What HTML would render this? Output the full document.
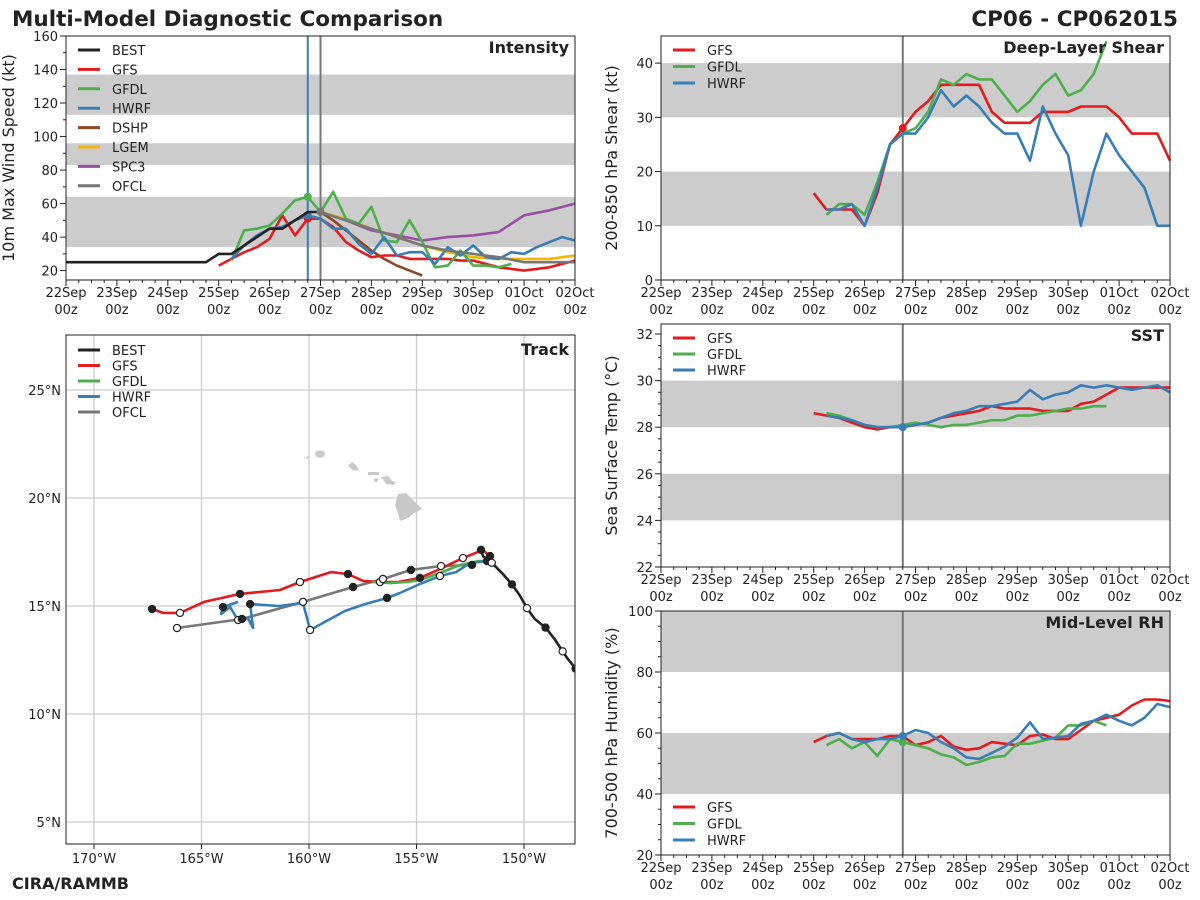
<!DOCTYPE html>
<html><head><meta charset="utf-8"><style>
body{margin:0;background:#fff;}
svg{display:block;font-family:"DejaVu Sans","Liberation Sans",sans-serif;}
</style></head><body>
<svg id="chart" width="1200" height="900" viewBox="0 0 1200 900" xmlns="http://www.w3.org/2000/svg">
<text x="12" y="26" font-size="21.5" font-weight="bold" fill="#222">Multi-Model Diagnostic Comparison</text>
<text x="1178" y="26" font-size="21.5" font-weight="bold" fill="#222" text-anchor="end">CP06 - CP062015</text>
<text x="12" y="889" font-size="16" font-weight="bold" fill="#222">CIRA/RAMMB</text>
</svg>
<script>
// ---- data ----
const dayLabels=["22Sep","23Sep","24Sep","25Sep","26Sep","27Sep","28Sep","29Sep","30Sep","01Oct","02Oct"];
const intBEST=[25,25,25,25,25,25,25,25,25,25,25,25,30,30,35,40,45,45,50,55,55];
const intGFS=[23,27,31,34,39,53,41,51,51,46,37,32,28,29,29,27,27,27,27,26,26,24,22,21,20,21,22,24,26];
const intGFDL=[26,44,45,47,54,62,64,55,67,51,48,58,38,37,50,37,22,23,32,23,23,22,24];
const intHWRF=[27,35,41,45,46,50,53,51,45,45,36,30,40,29,31,31,24,34,29,35,28,27,31,30,34,37,40,38];
const intDSHP=[55,50,44,38,32,27,23,20,17];
const intLGEM=[55,51,45,40,35,31,28,27,27,27,29];
const intSPC3=[55,50,44,41,38,40,41,43,53,56,60];
const intOFCL=[55,50,45,40,35,32,30,28,25,25,25];
const shrGFS=[16,13,13,13,10,16,25,28,31,33,36,36,36,36,31,29,29,29,31,31,31,32,32,32,30,27,27,27,22];
const shrGFDL=[12,14,14,12,18,25,27,28,31,37,36,38,37,37,34,31,33,36,38,34,35,38,44];
const shrHWRF=[13,13,14,10,17,25,27,27,30,35,32,34,32,29,27,27,22,32,27,23,10,20,27,23,20,17,10,10];
const sstGFS=[28.6,28.5,28.4,28.2,28.0,27.9,28.0,28.0,28.1,28.2,28.4,28.5,28.6,28.7,28.9,28.8,28.8,28.8,28.7,28.7,28.7,29.0,29.1,29.4,29.7,29.7,29.7,29.7,29.7];
const sstGFDL=[28.6,28.5,28.3,28.1,28.0,28.0,28.1,28.2,28.1,28.0,28.1,28.1,28.2,28.3,28.3,28.5,28.5,28.6,28.7,28.8,28.8,28.9,28.9];
const sstHWRF=[28.5,28.4,28.3,28.1,28.0,28.0,28.0,28.1,28.2,28.4,28.6,28.7,28.9,28.9,29.0,29.1,29.6,29.2,29.4,29.5,29.8,29.7,29.8,29.7,29.6,29.7,29.8,29.5];
const rhGFS=[57,59,60,58,58,58,59,59,56,57,59,55.5,54.5,55,57,56.5,56,59,59.5,58,58,61,64,65,66,69,71,71,70.5];
const rhGFDL=[56,58,55,57,52.5,58,57,56,55,53,52,49.5,50.5,52,52.5,56.5,56.5,57.5,58.5,62.5,62.5,64,62.5];
const rhHWRF=[59,60,58,57,58,58,59,61,60,57,55,52,51.5,53.5,55.5,58.5,63.5,58,58.5,59,63,64,66,64,62.5,65,69.5,68.5];
const trkBESTlon=[-147.6,-148.0,-148.2,-148.6,-149.0,-149.5,-149.86,-150.2,-150.56,-151.0,-151.5,-151.9,-152.0];
const trkBESTlat=[12.1,12.6,12.9,13.5,14.0,14.4,14.9,15.5,16.0,16.5,17.0,17.3,17.6];
const trkGFSlon=[-151.58,-151.91,-152.84,-153.91,-154.84,-155.86,-156.70,-157.49,-158.19,-158.98,-160.42,-161.35,-163.21,-164.88,-166.0,-166.79,-167.30];
const trkGFSlat=[17.31,17.59,17.22,16.71,16.30,16.11,16.11,16.16,16.48,16.57,16.11,15.74,15.56,15.19,14.68,14.68,14.86];
const trkGFDLlon=[-151.49,-152.14,-152.98,-153.91,-154.84,-155.44,-156.23,-157.07];
const trkGFDLlat=[17.08,17.08,16.90,16.53,16.20,16.11,16.06,16.11];
const trkHWRFlon=[-151.72,-152.51,-153.16,-153.91,-154.84,-155.77,-156.37,-157.40,-158.33,-159.95,-160.28,-161.40,-162.74,-162.60,-162.84,-163.30,-163.67,-164.09,-164.0,-163.30];
const trkHWRFlat=[17.08,16.99,16.57,16.39,16.02,15.60,15.37,15.09,14.77,13.89,15.14,15.0,15.09,13.98,14.44,14.35,14.95,14.63,14.95,15.19];
const trkOFCLlon=[-152.42,-153.86,-155.26,-156.56,-157.95,-160.28,-163.12,-166.14];
const trkOFCLlat=[16.90,16.85,16.67,16.25,15.88,15.19,14.40,13.98];

const C={BEST:"#222222",GFS:"#e41a1c",GFDL:"#4daf4a",HWRF:"#377eb8",DSHP:"#8b4726",LGEM:"#f2b705",SPC3:"#984ea3",OFCL:"#777777"};
const NS="http://www.w3.org/2000/svg";
const svg=document.getElementById("chart");
function mk(tag,attrs,parent,text){const e=document.createElementNS(NS,tag);for(const k in attrs)e.setAttribute(k,attrs[k]);if(text!==undefined)e.textContent=text;(parent||svg).appendChild(e);return e;}

function timePanel(p){
  const g=mk("g",{});
  
  
  const X=h=>p.x0+(p.x1-p.x0)*h/240;
  const Y=v=>p.y1-(p.y1-p.y0)*(v-p.vmin)/(p.vmax-p.vmin);
  p.bands.forEach(b=>{const r=mk("rect",{x:p.x0,y:Y(b[1]),width:p.x1-p.x0,height:Y(b[0])-Y(b[1]),fill:"#cccccc"},g);
    
    });
  // ticks x
  for(let h=0;h<=240;h+=6){const big=h%24===0;mk("line",{x1:X(h),x2:X(h),y1:p.y1,y2:p.y1+(big?6:3),stroke:"#222","stroke-width":1},g);}
  dayLabels.forEach((d,i)=>{const t=mk("text",{x:X(i*24),y:p.y1+17,"font-size":13,"text-anchor":"middle",fill:"#222"},g,d);
    
    
    mk("text",{x:X(i*24),y:p.y1+34,"font-size":13,"text-anchor":"middle",fill:"#222"},g,"00z");});
  for(let v=p.vmin0;v<=p.vmax;v+=p.minor){const big=Math.abs(((v-p.vmin0)/p.major)-Math.round((v-p.vmin0)/p.major))<1e-6;
    mk("line",{x1:p.x0,x2:p.x0-(big?6:3),y1:Y(v),y2:Y(v),stroke:"#222","stroke-width":1},g);
    if(big){const t=mk("text",{x:p.x0-8,y:Y(v)+5,"font-size":13,"text-anchor":"end",fill:"#222"},g,String(Math.round(v)));
      
      }}
  const yt=mk("text",{x:0,y:0,"font-size":16,"text-anchor":"middle",fill:"#222",transform:`translate(${p.x0-p.ytOff},${(p.y0+p.y1)/2}) rotate(-90)`},g,p.ytitle);
  
  
  p.vlines.forEach(vl=>mk("line",{x1:X(vl[0]),x2:X(vl[0]),y1:p.y0,y2:p.y1,stroke:vl[1],"stroke-width":2},g));
  p.series.forEach(s=>{
    const pts=s.d.map((v,i)=>X(s.t0+i*s.dt).toFixed(1)+","+Y(v).toFixed(1)).join(" ");
    const l=mk("polyline",{points:pts,fill:"none",stroke:C[s.k],"stroke-width":2.6,"stroke-linejoin":"round"},g);
    
    
    if(s.mark!==undefined){const i=(s.mark-s.t0)/s.dt;const c=mk("circle",{cx:X(s.mark),cy:Y(s.d[i]),r:4,fill:C[s.k]},g);
      
      }
  });
  mk("rect",{x:p.x0,y:p.y0,width:p.x1-p.x0,height:p.y1-p.y0,fill:"none",stroke:"#222","stroke-width":1},g);
  const tt=mk("text",{x:p.x1-6,y:p.y0+17,"font-size":16,"font-weight":"bold","text-anchor":"end",fill:"#222"},g,p.title);
  
  
  legend(g,p.x0+12,p.legY,p.legStep,p.legKeys);
}
function legend(g,x,y,step,keys){
  keys.forEach((k,i)=>{const e=mk("g",{},g);
    
    
    mk("line",{x1:x,x2:x+22,y1:y+i*step,y2:y+i*step,stroke:C[k],"stroke-width":3},e);
    mk("text",{x:x+34,y:y+i*step+5,"font-size":13,fill:"#222"},e,k);});
}

timePanel({name:"intensity-panel",x0:66,x1:575,y0:36,y1:280,vmin:14.4,vmax:160,vmin0:20,major:20,minor:10,
  bands:[[34,64],[83,96],[113,137]],ytitle:"10m Max Wind Speed (kt)",ytOff:52,title:"Intensity",
  vlines:[[114,"#377eb8"],[120,"#777"]],legY:50,legStep:19.4,legKeys:["BEST","GFS","GFDL","HWRF","DSHP","LGEM","SPC3","OFCL"],
  series:[{k:"DSHP",d:intDSHP,t0:120,dt:6},{k:"SPC3",d:intSPC3,t0:120,dt:12},{k:"LGEM",d:intLGEM,t0:120,dt:12},
    {k:"GFS",d:intGFS,t0:72,dt:6,mark:114},{k:"GFDL",d:intGFDL,t0:78,dt:6,mark:114},{k:"HWRF",d:intHWRF,t0:78,dt:6,mark:114},
    {k:"BEST",d:intBEST,t0:0,dt:6},{k:"OFCL",d:intOFCL,t0:120,dt:12,mark:120}]});
timePanel({name:"shear-panel",x0:661,x1:1170,y0:36,y1:280,vmin:0,vmax:45,vmin0:0,major:10,minor:10,
  bands:[[10,20],[30,40]],ytitle:"200-850 hPa Shear (kt)",ytOff:44,title:"Deep-Layer Shear",
  vlines:[[114,"#777"]],legY:50,legStep:16.5,legKeys:["GFS","GFDL","HWRF"],
  series:[{k:"GFS",d:shrGFS,t0:72,dt:6,mark:114},{k:"GFDL",d:shrGFDL,t0:78,dt:6},{k:"HWRF",d:shrHWRF,t0:78,dt:6}]});
timePanel({name:"sst-panel",x0:661,x1:1170,y0:324,y1:567,vmin:22,vmax:32.43,vmin0:22,major:2,minor:0.5,
  bands:[[24,26],[28,30]],ytitle:"Sea Surface Temp (°C)",ytOff:44,title:"SST",
  vlines:[[114,"#777"]],legY:338,legStep:16,legKeys:["GFS","GFDL","HWRF"],
  series:[{k:"GFS",d:sstGFS,t0:72,dt:6},{k:"GFDL",d:sstGFDL,t0:78,dt:6},{k:"HWRF",d:sstHWRF,t0:78,dt:6,mark:114}]});
timePanel({name:"rh-panel",x0:661,x1:1170,y0:611,y1:855,vmin:20,vmax:100,vmin0:20,major:20,minor:5,
  bands:[[40,60],[80,100]],ytitle:"700-500 hPa Humidity (%)",ytOff:44,title:"Mid-Level RH",
  vlines:[[114,"#777"]],legY:807,legStep:16.5,legKeys:["GFS","GFDL","HWRF"],
  series:[{k:"GFS",d:rhGFS,t0:72,dt:6},{k:"GFDL",d:rhGFDL,t0:78,dt:6,mark:114},{k:"HWRF",d:rhHWRF,t0:78,dt:6,mark:114}]});

// ---- track panel ----
(function(){
  const x0=66,x1=575,y0=335,y1=844;
  const LX=lon=>94+(lon+170)*21.5;
  const LY=lat=>390-(lat-25)*21.6;
  const g=mk("g",{});
  
  
  const cp=mk("clipPath",{id:"tc"},g);mk("rect",{x:x0,y:y0,width:x1-x0,height:y1-y0},cp);
  const inner=mk("g",{"clip-path":"url(#tc)"},g);
  [-170,-165,-160,-155,-150].forEach(l=>{mk("line",{x1:LX(l),x2:LX(l),y1:y0,y2:y1,stroke:"#cccccc","stroke-width":1.3},inner);
    const t=mk("text",{x:LX(l),y:y1+19,"font-size":13,"text-anchor":"middle",fill:"#222"},g,(-l)+"°W");
    
    
    mk("line",{x1:LX(l),x2:LX(l),y1:y1,y2:y1+5,stroke:"#222"},g);});
  [25,20,15,10,5].forEach(l=>{mk("line",{x1:x0,x2:x1,y1:LY(l),y2:LY(l),stroke:"#cccccc","stroke-width":1.3},inner);
    const t=mk("text",{x:x0-5,y:LY(l)+5,"font-size":13,"text-anchor":"end",fill:"#222"},g,l+"°N");
    
    });
  const isl=mk("g",{fill:"#c8c8c8"},inner);
  
  
  mk("ellipse",{cx:320,cy:454,rx:5,ry:3.5},isl);
  mk("path",{d:"M304,459 L308,456 L309,458 Z"},isl);
  mk("path",{d:"M348,466 L352,462 L356,465 L359,470 L354,471 Z"},isl);
  mk("rect",{x:368,y:472,width:11,height:3},isl);
  mk("path",{d:"M381,477 L388,476 L392,481 L396,482 L394,485 L386,484 Z"},isl);
  mk("ellipse",{cx:376,cy:480,rx:2,ry:2},isl);
  mk("path",{d:"M398,494 L406,493 L412,499 L418,505 L422,509 L414,513 L408,518 L400,521 L398,513 L395,505 Z"},isl);
  function track(k,lons,lats,w){
    const pts=lons.map((v,i)=>LX(v).toFixed(1)+","+LY(lats[i]).toFixed(1)).join(" ");
    const l=mk("polyline",{points:pts,fill:"none",stroke:C[k],"stroke-width":w,"stroke-linejoin":"round"},inner);
    
    
  }
  function dots(lons,lats,every){
    lons.forEach((v,i)=>{if(i%every)return;const c=mk("circle",{cx:LX(v),cy:LY(lats[i]),r:3.6,fill:(i/every)%2?"#fff":"#222",stroke:"#222","stroke-width":1.2},inner);
      
      });
  }
  track("OFCL",trkOFCLlon,trkOFCLlat,2.6);
  track("GFS",trkGFSlon,trkGFSlat,2.6);
  track("GFDL",trkGFDLlon,trkGFDLlat,2.6);
  track("HWRF",trkHWRFlon,trkHWRFlat,2.6);
  track("BEST",trkBESTlon,trkBESTlat,2.6);
  dots(trkGFSlon,trkGFSlat,2);
  dots(trkHWRFlon,trkHWRFlat,3);
  dots(trkOFCLlon,trkOFCLlat,1);
  dots(trkBESTlon,trkBESTlat,2);
  mk("rect",{x:x0,y:y0,width:x1-x0,height:y1-y0,fill:"none",stroke:"#222","stroke-width":1},g);
  const tt=mk("text",{x:x1-6,y:y0+20,"font-size":16,"font-weight":"bold","text-anchor":"end",fill:"#222"},g,"Track");
  
  
  legend(g,78,350,15.5,["BEST","GFS","GFDL","HWRF","OFCL"]);
})();
</script>
</body></html>
